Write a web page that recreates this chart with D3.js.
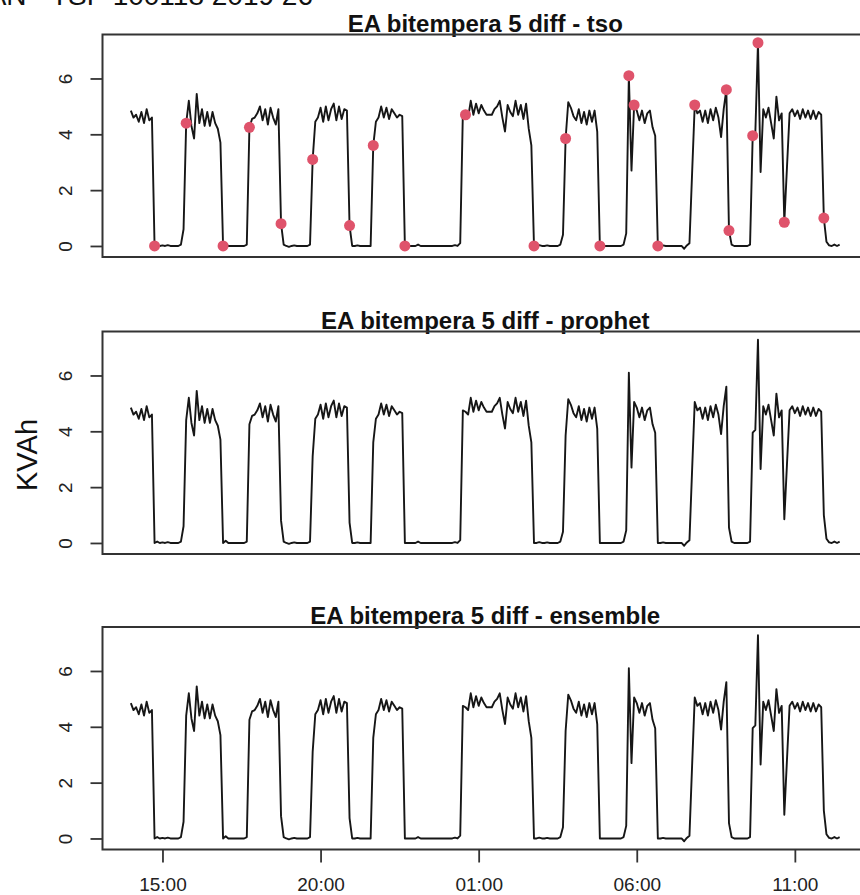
<!DOCTYPE html>
<html>
<head>
<meta charset="utf-8">
<script src="https://cdn.jsdelivr.net/npm/d3@7"></script>
<style>
body { margin: 0; background: #fff; }
svg { display: block; font-family: "Liberation Sans", Arial, Helvetica, sans-serif; }
</style>
</head>
<body>
<div id="chart"></div>
<script>
// 5-minute readings, same observed series in all three panels
var startTime = "2019-06-26 14:00";
var stepMinutes = 5;
var kvah = [
  4.85, 4.6, 4.7, 4.45, 4.8, 4.4, 4.9, 4.5, 4.6, 0.0,
  0.05, 0.0, 0.02, 0.0, 0.03, 0.0, 0.0, 0.0, 0.0, 0.05,
  0.6, 4.4, 5.2, 4.3, 3.85, 5.45, 4.4, 4.9, 4.3, 4.8,
  4.3, 4.8, 4.4, 4.2, 3.7, 0.0, 0.08, 0.0, 0.0, 0.0,
  0.0, 0.0, 0.0, 0.0, 0.05, 4.25, 4.55, 4.6, 4.75, 5.0,
  4.5, 4.9, 4.35, 4.95, 4.6, 4.35, 4.9, 0.8, 0.05, 0.0,
  -0.03, 0.0, 0.02, 0.0, 0.0, 0.0, 0.0, 0.0, 0.05, 3.1,
  4.45, 4.6, 4.95, 4.45, 5.0, 4.5, 4.9, 5.1, 4.5, 5.0,
  4.55, 4.9, 4.85, 0.73, 0.0, 0.0, 0.02, 0.0, 0.0, 0.0,
  0.0, 0.0, 3.6, 4.45, 4.6, 5.0, 4.6, 4.95, 4.55, 4.9,
  4.75, 4.6, 4.7, 4.65, 0.0, 0.0, 0.0, 0.0, 0.0, 0.05,
  0.0, 0.0, 0.0, 0.0, 0.0, 0.0, 0.0, 0.0, 0.0, 0.0,
  0.0, 0.0, 0.0, 0.03, 0.0, 0.1, 4.75, 4.7, 4.6, 5.2,
  4.7, 5.1, 4.75, 5.05, 4.85, 4.7, 4.7, 4.7, 4.9, 5.0,
  5.2, 4.6, 4.1, 5.05, 4.8, 4.65, 5.2, 4.7, 5.05, 4.55,
  5.1, 4.2, 3.6, 0.0, 0.0, 0.03, 0.0, 0.0, 0.02, 0.0,
  0.0, 0.0, 0.0, 0.05, 0.4, 3.85, 5.15, 4.95, 4.65, 4.5,
  4.9, 4.4, 4.8, 4.35, 4.85, 4.45, 4.85, 4.1, 0.0, 0.0,
  0.0, 0.0, 0.0, 0.0, 0.0, 0.0, 0.0, 0.05, 0.45, 6.1,
  2.7, 5.05, 4.85, 4.5, 4.85, 4.4, 4.75, 4.85, 4.25, 3.95,
  0.0, 0.0, 0.02, 0.0, 0.0, 0.0, 0.0, 0.0, 0.0, 0.0,
  -0.1, 0.02, 0.1, 2.6, 5.05, 4.75, 4.85, 4.45, 4.85, 4.4,
  4.9, 4.5, 4.95, 4.6, 3.9, 4.9, 5.6, 0.55, 0.05, 0.0,
  0.0, 0.0, 0.0, 0.0, 0.0, 0.05, 3.95, 4.05, 7.28, 2.65,
  4.9, 4.6, 4.95, 4.4, 3.85, 5.35, 4.5, 4.75, 0.85, 2.8,
  4.75, 4.9, 4.65, 4.85, 4.55, 4.9, 4.6, 4.85, 4.55, 4.85,
  4.55, 4.8, 4.7, 1.0, 0.15, 0.02, 0.0, 0.05, 0.0, 0.05
];
// points flagged by tso
var anomalyTimes = [
  "2019-06-26 14:45", "2019-06-26 15:45", "2019-06-26 16:55", "2019-06-26 17:45",
  "2019-06-26 18:45", "2019-06-26 19:45", "2019-06-26 20:55", "2019-06-26 21:40",
  "2019-06-26 22:40", "2019-06-27 00:35", "2019-06-27 02:45", "2019-06-27 03:45",
  "2019-06-27 04:50", "2019-06-27 05:45", "2019-06-27 05:55", "2019-06-27 06:40",
  "2019-06-27 07:50", "2019-06-27 08:50", "2019-06-27 08:55", "2019-06-27 09:40",
  "2019-06-27 09:50", "2019-06-27 10:40", "2019-06-27 11:55"
];
var panelNames = ["tso", "prophet", "ensemble"];
var yTicks = [0, 2, 4, 6];
var xTickTimes = ["2019-06-26 15:00", "2019-06-26 20:00", "2019-06-27 01:00",
                  "2019-06-27 06:00", "2019-06-27 11:00"];

var parse = d3.timeParse("%Y-%m-%d %H:%M");
var t0 = parse(startTime);
var series = kvah.map((v, i) => ({ time: d3.timeMinute.offset(t0, i * stepMinutes), value: v }));
var anomalies = anomalyTimes.map(parse).map(t => series.find(d => +d.time === +t));

var width = 860, height = 895;
var left = 102.5, right = 868;
var panelTops = [34.5, 331.5, 627];
var panelH = 222.5;

var tExt = d3.extent(series, d => d.time);
var tPad = (tExt[1] - tExt[0]) * 0.04;
var x = d3.scaleTime()
    .domain([new Date(+tExt[0] - tPad), new Date(+tExt[1] + tPad)])
    .range([left, right]);
var vExt = d3.extent(kvah);
var vPad = (vExt[1] - vExt[0]) * 0.04;

var svg = d3.select("#chart").append("svg")
    .attr("width", width)
    .attr("height", height);

svg.append("text")
    .attr("x", 313).attr("y", 5)
    .attr("text-anchor", "end")
    .attr("font-size", 28)
    .attr("fill", "#111")
    .text("MAN - TSP 100118 2019 26");

svg.append("text")
    .attr("transform", "translate(37,455) rotate(-90)")
    .attr("text-anchor", "middle")
    .attr("font-size", 29)
    .attr("fill", "#111")
    .text("KVAh");

panelNames.forEach(function (name, p) {
    var y = d3.scaleLinear()
        .domain([vExt[0] - vPad, vExt[1] + vPad])
        .range([panelH, 0]);
    var g = svg.append("g").attr("transform", "translate(0," + panelTops[p] + ")");

    g.append("text")
        .attr("x", (left + right) / 2).attr("y", -3)
        .attr("text-anchor", "middle")
        .attr("font-size", 24)
        .attr("font-weight", "bold")
        .attr("fill", "#111")
        .text("EA bitempera 5 diff - " + name);

    var yAxis = g.append("g")
        .attr("transform", "translate(" + left + ",0)")
        .call(d3.axisLeft(y).tickValues(yTicks).tickSize(12).tickFormat(d3.format("d")));
    yAxis.select(".domain").remove();
    yAxis.selectAll("line").attr("stroke", "#333").attr("stroke-width", 1.8);
    yAxis.selectAll("text")
        .attr("transform", "rotate(-90)")
        .attr("x", 0).attr("y", -30.5).attr("dy", 0)
        .attr("text-anchor", "middle")
        .attr("font-size", 19)
        .attr("font-family", null)
        .attr("fill", "#222");

    g.append("path")
        .datum(series)
        .attr("fill", "none")
        .attr("stroke", "#161616")
        .attr("stroke-width", 1.9)
        .attr("stroke-linejoin", "round")
        .attr("d", d3.line().x(d => x(d.time)).y(d => y(d.value)));

    if (name === "tso") {
        g.selectAll("circle")
            .data(anomalies).enter().append("circle")
            .attr("cx", d => x(d.time))
            .attr("cy", d => y(d.value))
            .attr("r", 5.5)
            .attr("fill", "#DF536B");
    }

    g.append("rect")
        .attr("x", left).attr("y", 0)
        .attr("width", right - left).attr("height", panelH)
        .attr("fill", "none")
        .attr("stroke", "#333")
        .attr("stroke-width", 2);

    if (p === panelNames.length - 1) {
        var xAxis = g.append("g")
            .attr("transform", "translate(0," + panelH + ")")
            .call(d3.axisBottom(x).tickValues(xTickTimes.map(parse))
                .tickSize(13).tickPadding(15).tickFormat(d3.timeFormat("%H:%M")));
        xAxis.select(".domain").remove();
        xAxis.selectAll("line").attr("stroke", "#333").attr("stroke-width", 1.8);
        xAxis.selectAll("text")
            .attr("font-size", 19)
            .attr("font-family", null)
            .attr("fill", "#222");
    }
});
</script>
</body>
</html>
